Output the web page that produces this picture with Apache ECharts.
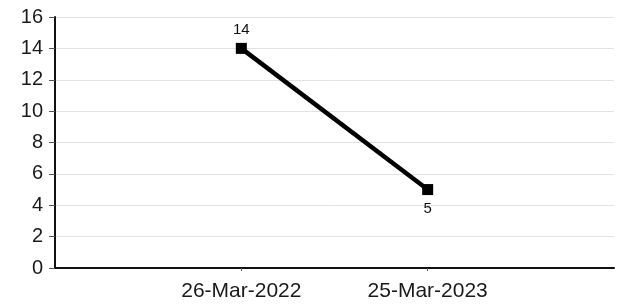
<!DOCTYPE html>
<html>
<head>
<meta charset="utf-8">
<script src="https://cdn.jsdelivr.net/npm/echarts@6/dist/echarts.min.js"></script>
<style>
  html, body { margin: 0; padding: 0; background: #fff; }
  #chart { width: 617px; height: 308px; }
</style>
</head>
<body>
<div id="chart"></div>
<script>
// blank slots at both ends keep the two dates where the original put them
var categories = ['', '26-Mar-2022', '25-Mar-2023', ''];
var values = [null, 14, 5, null];
var yTicks = [0, 2, 4, 6, 8, 10, 12, 14, 16];

var chart = echarts.init(document.getElementById('chart'));

chart.setOption({
  animation: false,
  textStyle: { fontFamily: 'Liberation Sans, Arial, sans-serif' },
  grid: { left: 55, right: 3, top: 17, bottom: 40 },
  xAxis: {
    type: 'category',
    data: categories,
    boundaryGap: false,
    axisLine: { lineStyle: { color: '#111', width: 2 } },
    axisTick: {
      length: 3,
      lineStyle: { color: '#555' },
      interval: function (i, v) { return v !== ''; }
    },
    axisLabel: { color: '#1a1a1a', fontSize: 21, margin: 13, interval: 0 },
    splitLine: { show: false }
  },
  yAxis: {
    type: 'value',
    min: yTicks[0],
    max: yTicks[yTicks.length - 1],
    interval: 2,
    axisLine: { show: true, lineStyle: { color: '#111', width: 2 } },
    axisTick: { show: true, length: 6, lineStyle: { color: '#555' } },
    axisLabel: { color: '#1a1a1a', fontSize: 20, margin: 12 },
    splitLine: { lineStyle: { color: '#e2e2e2', width: 1 } }
  },
  series: [
    {
      type: 'line',
      // first label above its point, second below, as in the picture
      data: values.map(function (v, i) {
        if (v === null) return null;
        return { value: v, label: { position: i === 1 ? 'top' : 'bottom' } };
      }),
      connectNulls: false,
      symbol: 'rect',
      symbolSize: 11,
      itemStyle: { color: '#000' },
      lineStyle: { color: '#000', width: 4.5 },
      label: {
        show: true,
        color: '#111',
        fontSize: 15,
        distance: 6
      }
    }
  ]
});
</script>
</body>
</html>
